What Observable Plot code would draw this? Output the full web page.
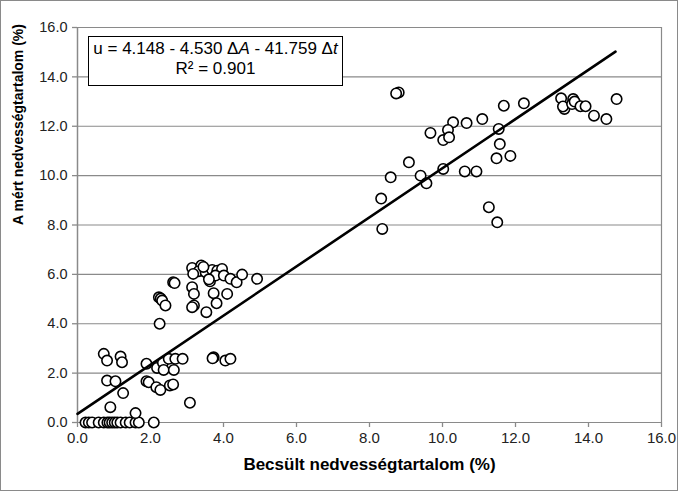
<!DOCTYPE html>
<html>
<head>
<meta charset="utf-8">
<script src="https://cdn.jsdelivr.net/npm/d3@7"></script>
<script src="https://cdn.jsdelivr.net/npm/@observablehq/plot@0.6"></script>
<style>
  html, body { margin: 0; padding: 0; background: #fff; }
  #wrap { position: relative; width: 678px; height: 491px; font-family: "Liberation Sans", Arial, sans-serif; }
  #frame { position: absolute; left: 0; top: 0; width: 678px; height: 491px; box-sizing: border-box; border: 1px solid #8a8a8a; pointer-events: none; }
  #eq { position: absolute; left: 88px; top: 36px; width: 255px; height: 50px; box-sizing: border-box;
        border: 1.5px solid #000; background: #fff; font-size: 17px; line-height: 20px; text-align: center; padding-top: 2px; color: #000; white-space: nowrap; }
</style>
</head>
<body>
<div id="wrap">
  <div id="chart"></div>
  <div id="eq">u = 4.148 - 4.530 Δ<i>A</i> - 41.759 Δ<i>t</i><br>R² = 0.901</div>
  <div id="frame"></div>
</div>
<script>
const xLabel = "Becsült nedvességtartalom (%)";
const yLabel = "A mért nedvességtartalom (%)";
const xTicks = [0, 2, 4, 6, 8, 10, 12, 14, 16];
const yTicks = [0, 2, 4, 6, 8, 10, 12, 14, 16];

// Estimated (x = becsült, y = mért)
const estX = [
  0.22, 0.31, 0.40, 0.58, 0.72, 0.82, 0.88, 0.95, 1.02, 1.09, 1.18, 1.32, 1.43, 1.59, 1.68, 2.09,
  0.90, 1.59, 1.25, 0.81, 1.04, 1.89, 1.95, 2.16, 2.27, 2.53, 2.62, 3.08,
  0.72, 0.81, 1.18, 1.22, 1.89, 2.18, 2.34, 2.36, 2.50, 2.64, 2.68, 2.88, 3.73, 3.70, 4.05, 4.19,
  2.23, 2.28, 2.32, 2.41, 2.25, 2.62, 2.66,
  3.14, 3.39, 3.32, 3.51, 3.69, 3.83, 3.96, 3.17, 3.63, 3.78, 4.01, 4.19, 4.36, 4.51, 4.92,
  3.14, 3.19, 3.19, 3.14, 3.73, 4.10, 3.81, 3.53, 3.45, 3.60,
  8.80, 8.73, 11.68, 12.23, 10.29, 10.66, 11.09, 11.54, 10.15, 9.67, 10.02, 10.18, 11.57,
  11.48, 11.86, 9.08, 8.58, 9.40, 9.56, 10.02, 10.61, 10.93, 8.32, 11.27, 11.50, 8.35,
  13.25, 13.34, 13.30, 13.58, 13.55, 13.62, 13.78, 13.92, 14.15, 14.49, 14.77
];
const measY = [
  0, 0, 0, 0, 0, 0, 0, 0, 0, 0, 0, 0, 0, 0, 0, 0,
  0.62, 0.38, 1.19, 1.70, 1.67, 1.67, 1.63, 1.43, 1.32, 1.50, 1.54, 0.80,
  2.78, 2.51, 2.67, 2.44, 2.38, 2.21, 2.42, 2.13, 2.58, 2.13, 2.58, 2.58, 2.64, 2.60, 2.51, 2.58,
  5.07, 5.02, 4.94, 4.74, 4.00, 5.68, 5.65,
  6.26, 6.36, 6.13, 6.09, 6.18, 6.15, 6.22, 6.02, 5.72, 5.95, 5.95, 5.82, 5.68, 5.99, 5.82,
  5.48, 5.21, 4.74, 4.67, 5.24, 5.21, 4.83, 4.47, 6.30, 5.80,
  13.37, 13.33, 12.83, 12.93, 12.16, 12.13, 12.29, 11.89, 11.85, 11.73, 11.44, 11.55, 11.28,
  10.70, 10.80, 10.54, 9.93, 10.00, 9.69, 10.27, 10.17, 10.17, 9.07, 8.72, 8.11, 7.84,
  13.13, 12.70, 12.80, 13.10, 12.90, 13.00, 12.81, 12.81, 12.43, 12.29, 13.10
];
// Trend line endpoints
const trendX = [0, 14.74];
const trendY = [0.35, 15.02];

const points = estX.map((x, i) => ({x, y: measY[i]}));
const trend = trendX.map((x, i) => ({x, y: trendY[i]}));
const fmt = d => d.toFixed(1);
const gray = "#8a8a8a";

const chart = Plot.plot({
  width: 678,
  height: 491,
  marginLeft: 77,
  marginRight: 17,
  marginTop: 27,
  marginBottom: 69,
  style: {fontFamily: "'Liberation Sans', Arial, sans-serif", fontSize: "14px", background: "transparent", color: "#222"},
  x: {domain: [0, 16]},
  y: {domain: [0, 16]},
  marks: [
    Plot.ruleY(yTicks, {stroke: gray, strokeWidth: 1.2}),
    Plot.ruleX([16], {stroke: gray, strokeWidth: 1.2}),
    Plot.ruleX([0], {stroke: gray, strokeWidth: 1.5}),
    Plot.axisX({ticks: xTicks, tickFormat: fmt, tickSize: 5, tickPadding: 5, stroke: gray, strokeWidth: 1.3,
      label: null, fill: "#222", fontSize: 15}),
    Plot.axisY({ticks: yTicks, tickFormat: fmt, tickSize: 5, tickPadding: 5, stroke: gray, strokeWidth: 1.3,
      label: null, fill: "#222", fontSize: 14.5}),
    Plot.text([xLabel], {frameAnchor: "bottom", dy: 47, fontWeight: "bold", fontSize: 17, fill: "#000"}),
    Plot.text([yLabel], {frameAnchor: "left", dx: -59, rotate: -90, fontWeight: "bold", fontSize: 14, fill: "#000"}),
    Plot.dot(points, {x: "x", y: "y", r: 5.2, stroke: "#000", strokeWidth: 1.6, fill: "#fff"}),
    Plot.line(trend, {x: "x", y: "y", stroke: "#000", strokeWidth: 2.6})
  ]
});
document.getElementById("chart").appendChild(chart);
</script>
</body>
</html>
